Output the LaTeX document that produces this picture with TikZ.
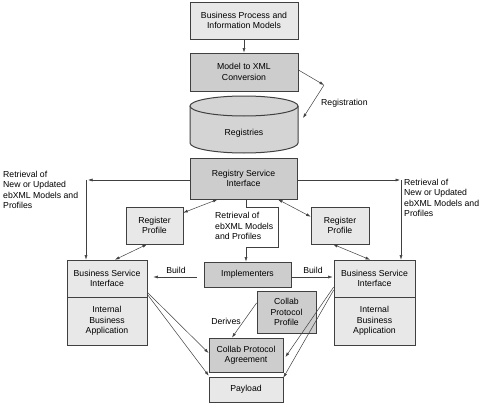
\documentclass[tikz,border=0pt]{standalone}
\usepackage{fontspec}
\setmainfont{Liberation Sans}
\usetikzlibrary{arrows.meta,calc}
\definecolor{boxlight}{HTML}{E8E8E8}
\definecolor{boxdark}{HTML}{CDCDCD}
\definecolor{cylfill}{HTML}{D4D4D4}
\definecolor{edge}{HTML}{404040}
\tikzset{
  lbox/.style={draw=edge, fill=boxlight, line width=0.6pt, inner sep=1pt, align=center, font=\fontsize{8.7}{10.5}\selectfont},
  dbox/.style={lbox, fill=boxdark, line width=0.9pt},
  conn/.style={draw=edge, line width=0.5pt, -{Latex[length=4.5pt,width=3pt]}},
  dconn/.style={draw=edge, line width=0.5pt, {Latex[length=4.5pt,width=3pt]}-{Latex[length=4.5pt,width=3pt]}},
  lbl/.style={inner sep=0pt, align=left, font=\fontsize{8.7}{10.5}\selectfont},
}
\begin{document}
\begin{tikzpicture}[x=1pt,y=-1pt]
\useasboundingbox[fill=white] (0,0) rectangle (480,415);
% top boxes
\node[lbox, minimum width=108, minimum height=37] (bp) at (244,20.5) {Business Process and\\Information Models};
\node[dbox, minimum width=108, minimum height=38] (mx) at (244,72) {Model to XML\\Conversion};
% cylinder
\fill[cylfill] (190,106) -- (190,143) .. controls (190,148.5) and (214.2,153) .. (244,153) .. controls (273.8,153) and (298,148.5) .. (298,143) -- (298,106) -- cycle;
\draw[edge, line width=1pt] (190,106) -- (190,143) .. controls (190,148.5) and (214.2,153) .. (244,153) .. controls (273.8,153) and (298,148.5) .. (298,143) -- (298,106);
\filldraw[fill=cylfill, draw=edge, line width=1pt] (244,106) ellipse [x radius=54, y radius=10];
\node[lbl, align=center] (reg) at (244,133) {Registries};
\coordinate (regR) at (303,118);
\coordinate (rc) at (324,85);
% registry service interface
\node[dbox, minimum width=107, minimum height=41] (rsi) at (243.5,178.5) {Registry Service\\Interface};
% register profiles
\node[lbox, minimum width=57, minimum height=37] (rpL) at (154.5,225.5) {Register\\Profile};
\node[lbox, minimum width=58, minimum height=37] (rpR) at (340,225.5) {Register\\Profile};
% business service interfaces
\node[lbox, minimum width=80, minimum height=37] (bsiLt) at (107,278.5) {Business Service\\Interface};
\node[lbox, minimum width=80, minimum height=48] (bsiLb) at (107,321) {Internal\\Business\\Application};
\node[lbox, minimum width=81, minimum height=37] (bsiRt) at (374.5,278.5) {Business Service\\Interface};
\node[lbox, minimum width=81, minimum height=48] (bsiRb) at (374.5,321) {Internal\\Business\\Application};
% middle
\node[dbox, minimum width=87, minimum height=25] (impl) at (247.5,274.5) {Implementers};
\node[dbox, minimum width=59, minimum height=42] (cpp) at (286.5,312) {Collab\\Protocol\\Profile};
\node[dbox, minimum width=74, minimum height=34] (cpa) at (246,355) {Collab Protocol\\Agreement};
\node[lbox, minimum width=74, minimum height=25] (pay) at (246,389.5) {Payload};
% labels
\node[lbl, anchor=west] (regl) at (321,103) {Registration};
\node[lbl, anchor=west] (retL) at (3,190) {Retrieval of\\New or Updated\\ebXML Models and\\Profiles};
\node[lbl, anchor=west] (retR) at (404,198) {Retrieval of\\New or Updated\\ebXML Models and\\Profiles};
\node[lbl, anchor=west] (retM) at (215,226) {Retrieval of\\ebXML Models\\and Profiles};
\node[lbl] (buildL) at (176,270) {Build};
\node[lbl] (buildR) at (313,270) {Build};
\node[lbl] (der) at (226,321) {Derives};
% connectors
\draw[conn] (bp) -- (mx);
\draw[conn] ([yshift=2pt]mx.east) -- (rc);
\draw[conn] (rc) -- (regR);
\coordinate (cl) at (86,180);
\coordinate (cr) at (401,180);
\draw[conn] ([yshift=-1.5pt]rsi.west) -- ([xshift=2pt]cl);
\draw[conn] (cl) -- (cl |- bsiLt.north);
\draw[conn] ([yshift=-1.5pt]rsi.east) -- ([xshift=-1pt]cr);
\draw[conn] (cr) -- (cr |- bsiRt.north);
\draw[dconn] ([xshift=-26pt]rsi.south) -- ([yshift=-6pt]rpL.north east);
\draw[dconn] ([xshift=-7.5pt]rpL.south) -- ([xshift=8pt]bsiLt.north);
\draw[dconn] ([xshift=34.5pt]rsi.south) -- ([yshift=-10pt]rpR.north west);
\draw[dconn] ([xshift=-7pt]rpR.south) -- ([xshift=-4.5pt]bsiRt.north);
\coordinate (b1) at (278,207);
\coordinate (b2) at (278,247);
\draw[conn] ([xshift=2.5pt]rsi.south) |- (b1) -- (b2) -| ([xshift=-1.5pt]impl.north);
\draw[conn, shorten <=7pt, shorten >=6pt] ([yshift=-2.5pt]impl.west) -- ([yshift=-2.5pt]impl.west -| bsiLt.east);
\draw[conn, shorten >=1pt] ([yshift=-2.5pt]impl.east) -- ([yshift=-2.5pt]impl.east -| bsiRt.west);
\draw[conn] ([yshift=9pt]cpp.west) -- ([xshift=-14pt]cpa.north);
\draw[conn] ([yshift=5pt]bsiLt.south east) -- ([yshift=2pt]cpa.west);
\draw[conn] ([yshift=3pt]bsiLt.south east) -- ([yshift=1pt]pay.north west);
\draw[conn] ([yshift=-8.5pt]bsiRt.west) -- ([xshift=2pt,yshift=-2pt]cpa.east);
\draw[conn] ([yshift=-11.5pt]bsiRt.west) -- ([yshift=-1pt]pay.north east);
\end{tikzpicture}
\end{document}
